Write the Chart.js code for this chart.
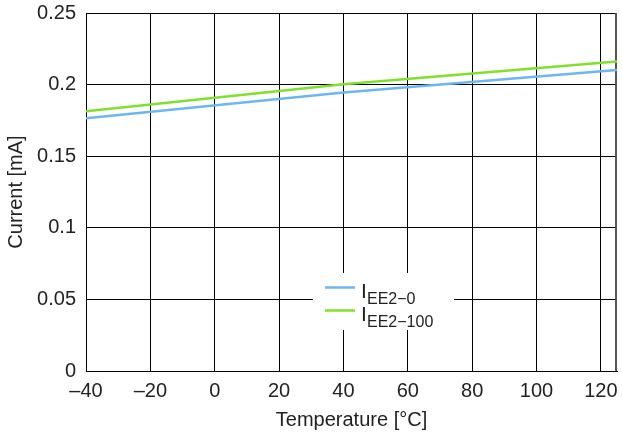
<!DOCTYPE html>
<html>
<head>
<meta charset="utf-8">
<script src="https://cdn.jsdelivr.net/npm/chart.js@4"></script>
<style>
  html, body { margin: 0; padding: 0; background: #fff; }
  #wrap { width: 622px; height: 434px; }
</style>
</head>
<body>
<div id="wrap"><canvas id="chart" width="622" height="434"></canvas></div>
<script>
// values
const temps = [-40, 40, 125];
const iEE2_0 = [0.1765, 0.1945, 0.2102];
const iEE2_100 = [0.1813, 0.2002, 0.2162];
const seriesNames = [['I', 'EE2\u22120'], ['I', 'EE2\u2212100']];
const seriesColors = ['#6cb6f5', '#80e12c'];

const textColor = '#222';
const fontFamily = '"Liberation Sans", Arial, Helvetica, sans-serif';

// legend with subscripts, drawn on the canvas
const subLegend = {
  id: 'subLegend',
  afterDatasetsDraw(chart) {
    const c = chart.ctx;
    c.save();
    c.fillStyle = '#fff';
    c.fillRect(313, 273, 141, 57);
    seriesNames.forEach((name, i) => {
      const y = 287.5 + i * 23;
      c.strokeStyle = seriesColors[i];
      c.lineWidth = 2.5;
      c.beginPath();
      c.moveTo(325, y);
      c.lineTo(355, y);
      c.stroke();
      c.fillStyle = textColor;
      c.textBaseline = 'alphabetic';
      c.textAlign = 'left';
      c.font = '21px ' + fontFamily;
      c.fillText(name[0], 361, y + 10.5);
      c.font = '16px ' + fontFamily;
      c.fillText(name[1], 367, y + 16);
    });
    c.restore();
  }
};

// right frame edge at 125 °C
const rightEdge = {
  id: 'rightEdge',
  beforeDatasetsDraw(chart) {
    const a = chart.chartArea;
    const c = chart.ctx;
    c.save();
    c.strokeStyle = '#555';
    c.lineWidth = 2;
    c.beginPath();
    c.moveTo(a.right - 1, a.top);
    c.lineTo(a.right - 1, a.bottom);
    c.stroke();
    c.restore();
  }
};

const ctx = document.getElementById('chart').getContext('2d');
new Chart(ctx, {
  type: 'line',
  data: {
    datasets: [
      {
        label: 'IEE2-0',
        data: temps.map((t, i) => ({ x: t, y: iEE2_0[i] })),
        borderColor: seriesColors[0],
        borderWidth: 2.5,
        pointRadius: 0,
        fill: false
      },
      {
        label: 'IEE2-100',
        data: temps.map((t, i) => ({ x: t, y: iEE2_100[i] })),
        borderColor: seriesColors[1],
        borderWidth: 2.5,
        pointRadius: 0,
        fill: false
      }
    ]
  },
  options: {
    responsive: false,
    animation: false,
    layout: { padding: { top: 13, right: 5, left: 0, bottom: 0 } },
    plugins: {
      legend: { display: false },
      tooltip: { enabled: false }
    },
    scales: {
      x: {
        type: 'linear',
        min: -40,
        max: 125,
        afterFit: s => { s.height = 63; s.paddingLeft = 0; s.paddingRight = 0; },
        border: { color: '#000', width: 1 },
        grid: { color: '#000', lineWidth: 1, drawTicks: false },
        ticks: {
          stepSize: 20,
          includeBounds: false,
          padding: 8,
          color: textColor,
          font: { family: fontFamily, size: 20 },
          maxRotation: 0,
          callback: v => String(v).replace('-', '\u2013')
        },
        title: {
          display: true,
          text: 'Temperature [°C]',
          color: textColor,
          font: { family: fontFamily, size: 20 },
          padding: { top: 0, bottom: 2 }
        }
      },
      y: {
        min: 0,
        max: 0.25,
        afterFit: s => { s.width = 86; s.paddingTop = 0; s.paddingBottom = 0; },
        border: { color: '#000', width: 1 },
        grid: { color: '#000', lineWidth: 1, drawTicks: false },
        ticks: {
          stepSize: 0.05,
          padding: 10,
          color: textColor,
          font: { family: fontFamily, size: 20 },
          callback: v => String(+v.toFixed(2))
        },
        title: {
          display: true,
          text: 'Current [mA]',
          color: textColor,
          font: { family: fontFamily, size: 20 },
          padding: { top: 4, bottom: 0 }
        }
      }
    }
  },
  plugins: [rightEdge, subLegend]
});
</script>
</body>
</html>
